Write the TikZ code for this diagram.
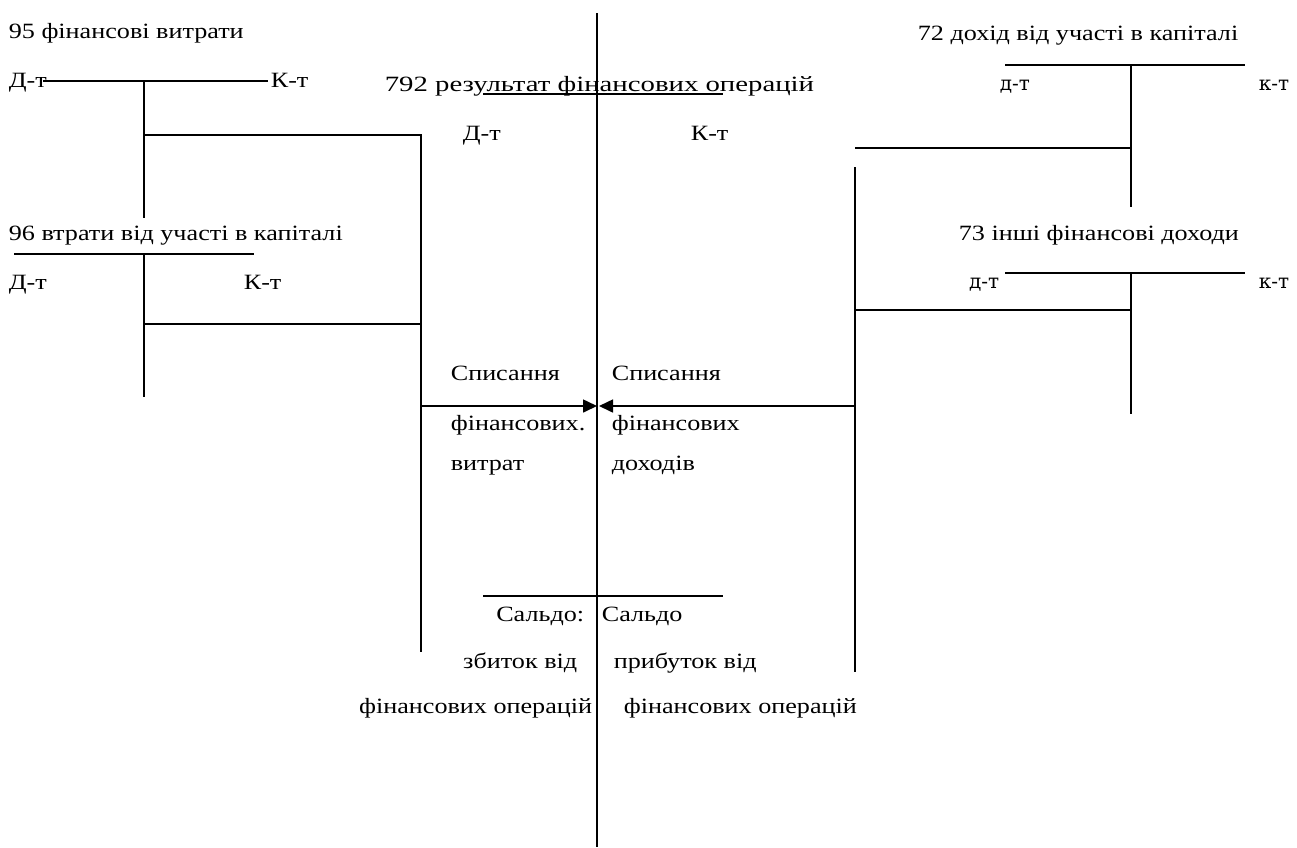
\documentclass[tikz,border=0pt]{standalone}
\usepackage{fontspec}
\usepackage{graphicx}
\setmainfont[FakeStretch=1.2]{Liberation Serif}
\newfontfamily\dtfont{DejaVu Serif}
\usetikzlibrary{arrows.meta}
\begin{document}
\begin{tikzpicture}[x=1pt,y=-1pt,line width=1.6pt,
  lbl/.style={inner sep=0pt,font=\fontsize{21.8}{26}\selectfont},
  dk/.style={inner sep=0pt,font=\dtfont\fontsize{20}{24}\selectfont},
  arr/.style={-{Triangle[length=14pt,width=13pt]}}]
\useasboundingbox (0,0) rectangle (1297,847);
% coordinates
\coordinate (mTop) at (597,13);
\coordinate (mBot) at (597,847);
\coordinate (uL) at (483,94);
\coordinate (uR) at (723,94);
\coordinate (a95L) at (43,81);
\coordinate (a95R) at (268,81);
\coordinate (a95T) at (144,81);
\coordinate (a95B) at (144,218);
\coordinate (a95H) at (144,135);
\coordinate (lC) at (421,135);
\coordinate (lB) at (421,652);
\coordinate (a96L) at (14,254);
\coordinate (a96R) at (254,254);
\coordinate (a96T) at (144,254);
\coordinate (a96B) at (144,397);
\coordinate (a96H) at (144,324);
\coordinate (lM) at (421,324);
\coordinate (a72L) at (1005,65);
\coordinate (a72R) at (1245,65);
\coordinate (a72T) at (1131,65);
\coordinate (a72B) at (1131,207);
\coordinate (a72H) at (1131,148);
\coordinate (rM) at (855,148);
\coordinate (a73L) at (1005,273);
\coordinate (a73R) at (1245,273);
\coordinate (a73T) at (1131,273);
\coordinate (a73B) at (1131,414);
\coordinate (a73H) at (1131,310);
\coordinate (rN) at (855,310);
\coordinate (rT) at (855,167);
\coordinate (rB) at (855,672);
\coordinate (arL) at (421,406);
\coordinate (arLt) at (597,406);
\coordinate (arR) at (855,406);
\coordinate (arRt) at (599,406);
\coordinate (sL) at (483,596);
\coordinate (sR) at (723,596);
% lines
\draw (mTop) -- (mBot);
\draw[line width=1.3pt] (uL) -- (uR);
\draw (a95L) -- (a95R);
\draw (a95T) -- (a95B);
\draw (a95H) -- (lC) -- (lB);
\draw (a96L) -- (a96R);
\draw (a96T) -- (a96B);
\draw (a96H) -- (lM);
\draw (a72L) -- (a72R);
\draw (a72T) -- (a72B);
\draw (rM) -- (a72H);
\draw (a73L) -- (a73R);
\draw (a73T) -- (a73B);
\draw (rN) -- (a73H);
\draw (rT) -- (rB);
\draw[arr] (arL) -- (arLt);
\draw[arr] (arR) -- (arRt);
\draw (sL) -- (sR);
% texts
\node[lbl,anchor=base west] (t95) at (8,38) {95 фінансові витрати};
\node[lbl,anchor=base west] (d95) at (8,87) {Д-т};
\node[lbl,anchor=base west] (k95) at (270,87) {К-т};
\node[lbl,anchor=base west] (t792) at (384,91) {\scalebox{1.1}[1]{792 результат фінансових операцій}};
\node[lbl,anchor=base west] (d792) at (462,140) {Д-т};
\node[lbl,anchor=base west] (k792) at (690,140) {К-т};
\node[lbl,anchor=base west] (t96) at (8,240) {96 втрати від участі в капіталі};
\node[lbl,anchor=base west] (d96) at (8,289) {Д-т};
\node[lbl,anchor=base west] (k96) at (243,289) {К-т};
\node[lbl,anchor=base west] (t72) at (917,40) {72 дохід від участі в капіталі};
\node[dk,anchor=base west] (d72) at (999,90) {д-т};
\node[dk,anchor=base west] (k72) at (1258,90) {к-т};
\node[lbl,anchor=base west] (t73) at (958,240) {73 інші фінансові доходи};
\node[dk,anchor=base east] (d73) at (1000,288) {д-т};
\node[dk,anchor=base west] (k73) at (1258,288) {к-т};
\node[lbl,anchor=base west] (sp1) at (450,380) {Списання};
\node[lbl,anchor=base west] (sp2) at (450,430) {фінансових.};
\node[lbl,anchor=base west] (sp3) at (450,470) {витрат};
\node[lbl,anchor=base west] (sd1) at (611,380) {Списання};
\node[lbl,anchor=base west] (sd2) at (611,430) {фінансових};
\node[lbl,anchor=base west] (sd3) at (611,470) {доходів};
\node[lbl,anchor=base east] (s1) at (585,621) {Сальдо:};
\node[lbl,anchor=base east] (s2) at (578,668) {збиток від};
\node[lbl,anchor=base east] (s3) at (593,713) {фінансових операцій};
\node[lbl,anchor=base west] (p1) at (601,621) {Сальдо};
\node[lbl,anchor=base west] (p2) at (613,668) {прибуток від};
\node[lbl,anchor=base west] (p3) at (623,713) {фінансових операцій};
\end{tikzpicture}
\end{document}
